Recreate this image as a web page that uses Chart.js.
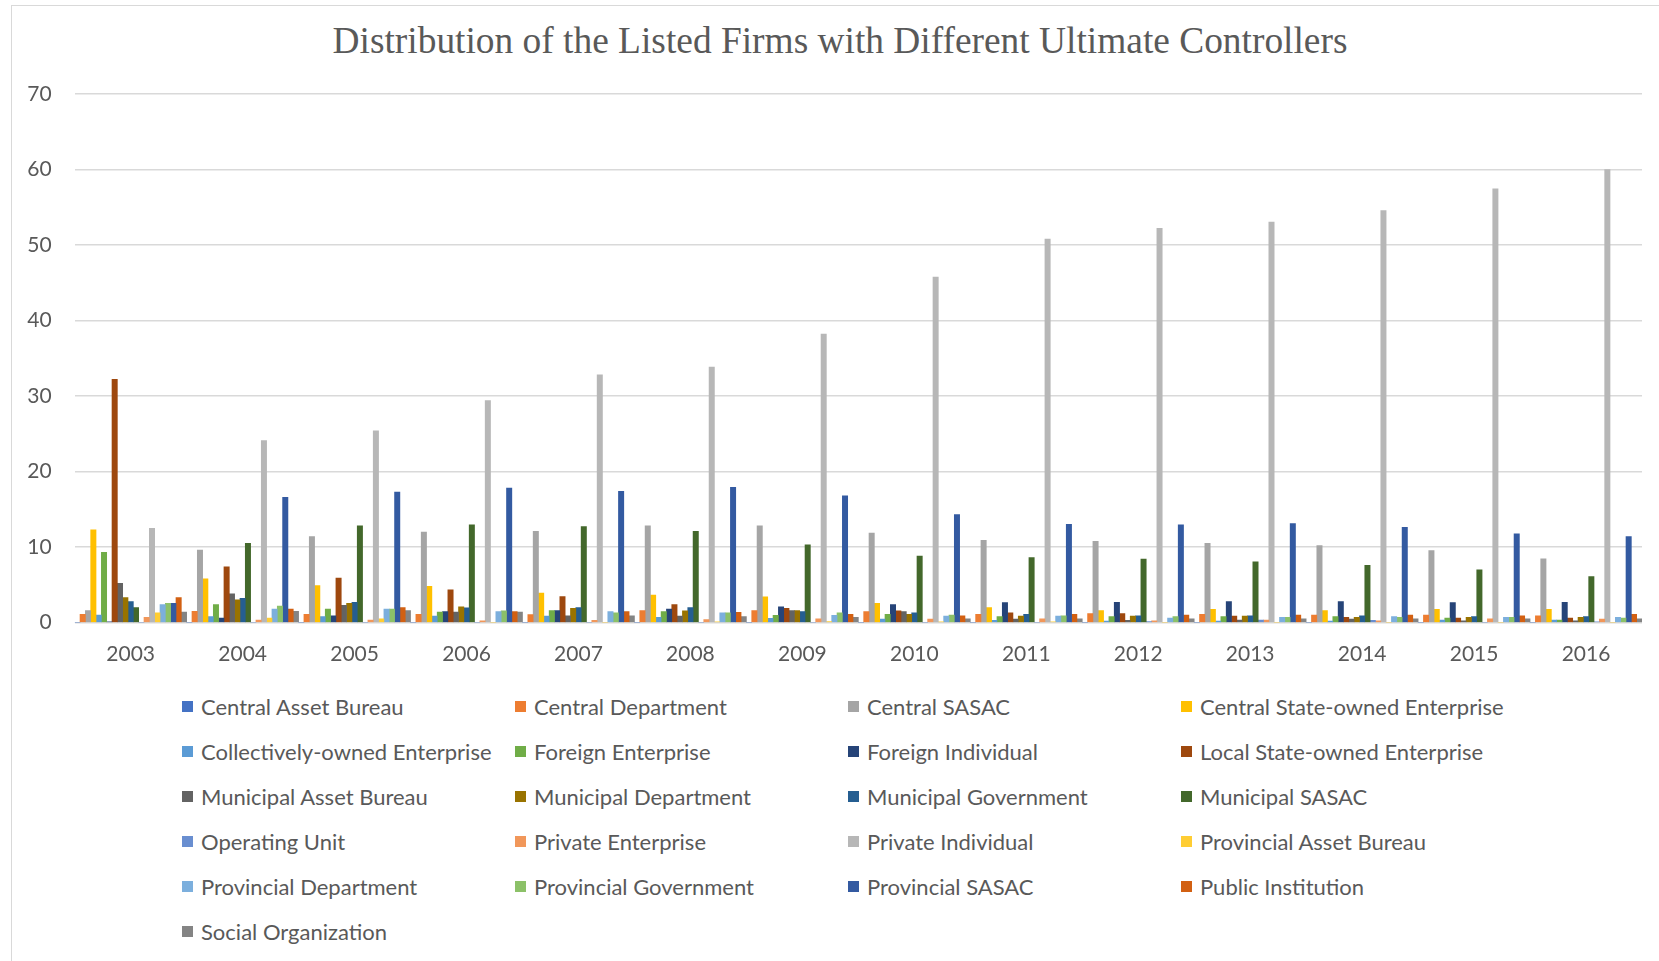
<!DOCTYPE html>
<html>
<head>
<meta charset="utf-8">
<script src="https://cdn.jsdelivr.net/npm/chart.js@4.4.0/dist/chart.umd.min.js"></script>
<style>
  body { margin: 0; background: #fff; }
  #wrap { position: relative; width: 1659px; height: 961px; overflow: hidden; background: #fff; }
  #frame { position: absolute; left: 11px; top: 5px; width: 1700px; height: 1000px; border: 1.5px solid #D9D9D9; }
  #title { position: absolute; left: 0; width: 1680px; top: 21px; text-align: center;
           font-family: "Liberation Serif", "DejaVu Serif", serif; font-size: 37.4px; line-height: 40px; color: #595959; }
  #chart { position: absolute; left: 0; top: 0; }
  #legend { position: absolute; left: 182px; top: 684px; display: grid;
            grid-template-columns: repeat(4, 333px); grid-auto-rows: 45px;
            font-family: Lato, "Open Sans", sans-serif; font-size: 22px; color: #595959; }
  #legend div { display: flex; align-items: center; white-space: nowrap; }
  #legend span.box { display: inline-block; width: 11px; height: 11px; margin-right: 8px; }
</style>
</head>
<body>
<div id="wrap">
  <div id="frame"></div>
  <div id="title">Distribution of the Listed Firms with Different Ultimate Controllers</div>
  <canvas id="chart" width="1659" height="680"></canvas>
  <div id="legend"></div>
</div>
<script>
// Dados
const anos = ['2003','2004','2005','2006','2007','2008','2009','2010','2011','2012','2013','2014','2015','2016'];
const yTicks = [0, 10, 20, 30, 40, 50, 60, 70];

const centralAssetBureau    = [0, 0, 0, 0, 0, 0, 0, 0, 0, 0, 0, 0, 0, 0];
const centralDepartment     = [1.1, 1.5, 1.1, 1.1, 1.05, 1.6, 1.6, 1.45, 1.1, 1.2, 1.1, 1.0, 1.0, 0.9];
const centralSASAC          = [1.6, 9.6, 11.4, 12.0, 12.1, 12.8, 12.8, 11.85, 10.9, 10.75, 10.5, 10.2, 9.55, 8.45];
const centralSOE            = [12.3, 5.8, 4.9, 4.8, 3.9, 3.65, 3.4, 2.55, 2.0, 1.6, 1.75, 1.6, 1.75, 1.75];
const collectivelyOwned     = [1.0, 0.8, 0.8, 0.85, 0.85, 0.7, 0.55, 0.45, 0.3, 0.2, 0.2, 0.2, 0.35, 0.35];
const foreignEnterprise     = [9.3, 2.4, 1.8, 1.4, 1.6, 1.45, 0.95, 1.1, 0.8, 0.8, 0.8, 0.8, 0.6, 0.35];
const foreignIndividual     = [0.1, 0.6, 0.9, 1.45, 1.6, 1.8, 2.1, 2.4, 2.65, 2.7, 2.8, 2.8, 2.65, 2.7];
const localSOE              = [32.2, 7.4, 5.9, 4.35, 3.45, 2.4, 1.9, 1.55, 1.3, 1.2, 0.85, 0.7, 0.6, 0.6];
const municipalAssetBureau  = [5.2, 3.8, 2.3, 1.4, 0.9, 0.85, 1.6, 1.45, 0.45, 0.3, 0.35, 0.45, 0.25, 0.25];
const municipalDepartment   = [3.3, 3.0, 2.55, 2.1, 1.9, 1.55, 1.6, 1.1, 0.85, 0.85, 0.85, 0.7, 0.7, 0.7];
const municipalGovernment   = [2.8, 3.2, 2.7, 1.95, 2.0, 2.0, 1.45, 1.3, 1.1, 0.9, 0.9, 0.9, 0.8, 0.8];
const municipalSASAC        = [2.0, 10.5, 12.8, 12.95, 12.7, 12.1, 10.3, 8.8, 8.6, 8.4, 8.05, 7.6, 7.0, 6.1];
const operatingUnit         = [0, 0, 0, 0, 0, 0, 0, 0, 0, 0.15, 0.35, 0.3, 0, 0.1];
const privateEnterprise     = [0.7, 0.35, 0.35, 0.25, 0.3, 0.4, 0.5, 0.45, 0.5, 0.25, 0.35, 0.25, 0.5, 0.45];
const privateIndividual     = [12.5, 24.1, 25.4, 29.4, 32.8, 33.85, 38.2, 45.75, 50.8, 52.2, 53.05, 54.55, 57.45, 60.0];
const provincialAssetBureau = [1.3, 0.6, 0.5, 0, 0, 0.1, 0.15, 0.1, 0.1, 0, 0, 0, 0, 0];
const provincialDepartment  = [2.4, 1.8, 1.8, 1.45, 1.45, 1.3, 0.95, 0.85, 0.85, 0.6, 0.7, 0.8, 0.7, 0.7];
const provincialGovernment  = [2.55, 2.2, 1.8, 1.55, 1.3, 1.3, 1.3, 1.0, 0.9, 0.8, 0.7, 0.7, 0.7, 0.6];
const provincialSASAC       = [2.55, 16.6, 17.3, 17.8, 17.4, 17.9, 16.8, 14.3, 13.0, 12.95, 13.1, 12.6, 11.75, 11.4];
const publicInstitution     = [3.3, 1.8, 2.0, 1.45, 1.45, 1.35, 1.1, 0.9, 1.1, 1.0, 1.0, 1.0, 0.9, 1.1];
const socialOrganization    = [1.4, 1.5, 1.6, 1.4, 0.9, 0.8, 0.7, 0.5, 0.5, 0.5, 0.5, 0.5, 0.5, 0.5];

const series = [
  ['Central Asset Bureau', centralAssetBureau, '#4472C4'],
  ['Central Department', centralDepartment, '#ED7D31'],
  ['Central SASAC', centralSASAC, '#A5A5A5'],
  ['Central State-owned Enterprise', centralSOE, '#FFC000'],
  ['Collectively-owned Enterprise', collectivelyOwned, '#5B9BD5'],
  ['Foreign Enterprise', foreignEnterprise, '#70AD47'],
  ['Foreign Individual', foreignIndividual, '#264478'],
  ['Local State-owned Enterprise', localSOE, '#9E480E'],
  ['Municipal Asset Bureau', municipalAssetBureau, '#636363'],
  ['Municipal Department', municipalDepartment, '#997300'],
  ['Municipal Government', municipalGovernment, '#255E91'],
  ['Municipal SASAC', municipalSASAC, '#43682B'],
  ['Operating Unit', operatingUnit, '#698ED0'],
  ['Private Enterprise', privateEnterprise, '#F1975A'],
  ['Private Individual', privateIndividual, '#B7B7B7'],
  ['Provincial Asset Bureau', provincialAssetBureau, '#FFCD33'],
  ['Provincial Department', provincialDepartment, '#7CAFDD'],
  ['Provincial Government', provincialGovernment, '#8CC168'],
  ['Provincial SASAC', provincialSASAC, '#335AA1'],
  ['Public Institution', publicInstitution, '#D26012'],
  ['Social Organization', socialOrganization, '#848484']
];

// Grafico
const ctx = document.getElementById('chart').getContext('2d');
const grafico = new Chart(ctx, {
  type: 'bar',
  data: {
    labels: anos,
    datasets: series.map(s => ({
      label: s[0],
      data: s[1],
      backgroundColor: s[2],
      borderWidth: 0,
      categoryPercentage: 1,
      barPercentage: 1
    }))
  },
  options: {
    responsive: false,
    animation: false,
    layout: { padding: { top: 94, right: 17, left: 0, bottom: 0 } },
    plugins: { legend: { display: false }, title: { display: false }, tooltip: { enabled: false } },
    scales: {
      x: {
        grid: { display: false },
        border: { display: false },
        ticks: { color: '#595959', font: { family: 'Lato', size: 21 }, padding: 11.5 },
        afterFit: scale => { scale.height = 57.4; }
      },
      y: {
        min: 0,
        max: 70,
        afterBuildTicks: scale => { scale.ticks = yTicks.map(v => ({ value: v })); },
        grid: { color: '#D9D9D9', lineWidth: 1.4, drawTicks: false },
        border: { display: false },
        ticks: { color: '#595959', font: { family: 'Lato', size: 21 }, padding: 23 },
        afterFit: scale => { scale.width = 74.7; }
      }
    }
  }
});

// Legenda
const legenda = document.getElementById('legend');
series.forEach(s => {
  const item = document.createElement('div');
  item.innerHTML = `<span class="box" style="background:${s[2]}"></span>${s[0]}`;
  legenda.appendChild(item);
});
</script>
</body>
</html>
